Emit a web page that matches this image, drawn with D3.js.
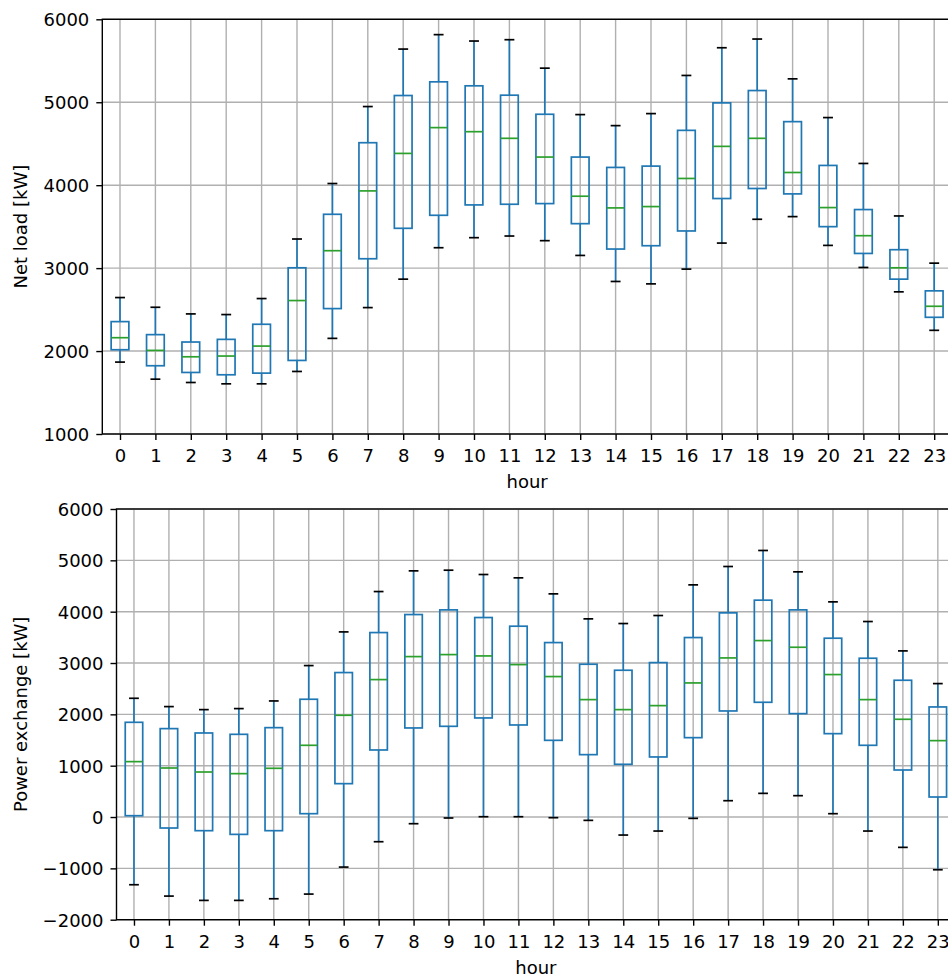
<!DOCTYPE html>
<html>
<head>
<meta charset="utf-8">
<script src="https://cdn.jsdelivr.net/npm/d3@7"></script>
<style>
  body { margin: 0; background: #fff; }
  svg text { font-family: "DejaVu Sans", sans-serif; font-size: 18px; fill: #000; }
</style>
</head>
<body>
<svg id="chart" width="948" height="977"></svg>
<script>
var hours = d3.range(0, 24);

// net load [kW]: whisker low, Q1, median, Q3, whisker high
var loadLow  = [1867,1661,1621,1605,1605,1754,2153,2524,2867,3246,3367,3387,3331,3153,2839,2810,2988,3302,3589,3621,3274,3008,2714,2250];
var loadQ1   = [2016,1823,1742,1714,1734,1887,2512,3113,3480,3637,3762,3770,3778,3536,3230,3270,3448,3839,3960,3895,3500,3177,2867,2407];
var loadMed  = [2161,2008,1931,1940,2060,2609,3210,3931,4383,4694,4645,4565,4339,3867,3726,3742,4081,4468,4565,4153,3730,3391,3004,2540];
var loadQ3   = [2355,2198,2109,2141,2323,3004,3649,4512,5081,5246,5198,5085,4855,4339,4214,4230,4661,4992,5141,4766,4238,3706,3222,2726];
var loadHigh = [2645,2528,2448,2440,2633,3351,4020,4948,5641,5815,5738,5754,5411,4851,4718,4863,5323,5657,5762,5282,4815,4262,3629,3060];

// power exchange [kW]
var pxLow  = [-1319,-1540,-1624,-1624,-1592,-1501,-975,-481,-130,-19,6,6,-13,-65,-351,-273,-26,318,461,416,65,-273,-591,-1027];
var pxQ1   = [26,-214,-266,-338,-266,65,650,1306,1735,1767,1930,1793,1494,1215,1027,1170,1546,2066,2235,2014,1624,1397,916,390];
var pxMed  = [1079,955,877,845,949,1397,1982,2677,3125,3164,3138,2969,2736,2287,2092,2170,2612,3099,3437,3307,2775,2287,1904,1488];
var pxQ3   = [1845,1722,1637,1611,1741,2294,2814,3593,3944,4035,3886,3717,3398,2976,2859,3008,3496,3977,4224,4035,3483,3093,2664,2144];
var pxHigh = [2313,2151,2092,2112,2261,2950,3606,4392,4795,4808,4724,4659,4347,3860,3769,3925,4522,4880,5192,4776,4191,3808,3236,2599];

var loadTicks = [1000,2000,3000,4000,5000,6000];
var pxTicks = [-2000,-1000,0,1000,2000,3000,4000,5000,6000];

function rows(low, q1, med, q3, high) {
  return hours.map(function(h, i) {
    return {hour: h, low: low[i], q1: q1[i], med: med[i], q3: q3[i], high: high[i]};
  });
}

var svg = d3.select("#chart");

function drawBoxPlot(opt) {
  var x = d3.scaleLinear().domain([-0.5, 23.5]).range([opt.left, opt.left + opt.width]);
  var y = d3.scaleLinear().domain(opt.yDomain).range([opt.top + opt.height, opt.top]);
  var step = x(1) - x(0);
  var boxW = step * 0.5, capW = step * 0.28;
  var g = svg.append("g");

  // grid
  g.selectAll(".gx").data(hours).enter().append("line")
    .attr("x1", function(d) { return x(d); }).attr("x2", function(d) { return x(d); })
    .attr("y1", opt.top).attr("y2", opt.top + opt.height)
    .attr("stroke", "#b0b0b0").attr("stroke-width", 1.4);
  g.selectAll(".gy").data(opt.ticks).enter().append("line")
    .attr("x1", opt.left).attr("x2", opt.left + opt.width)
    .attr("y1", function(d) { return y(d); }).attr("y2", function(d) { return y(d); })
    .attr("stroke", "#b0b0b0").attr("stroke-width", 1.4);

  var b = g.selectAll(".box").data(opt.data).enter().append("g");
  b.append("line").attr("stroke", "#1f77b4").attr("stroke-width", 1.7)
    .attr("x1", function(d) { return x(d.hour); }).attr("x2", function(d) { return x(d.hour); })
    .attr("y1", function(d) { return y(d.low); }).attr("y2", function(d) { return y(d.q1); });
  b.append("line").attr("stroke", "#1f77b4").attr("stroke-width", 1.7)
    .attr("x1", function(d) { return x(d.hour); }).attr("x2", function(d) { return x(d.hour); })
    .attr("y1", function(d) { return y(d.q3); }).attr("y2", function(d) { return y(d.high); });
  b.append("rect").attr("fill", "none").attr("stroke", "#1f77b4").attr("stroke-width", 1.7)
    .attr("x", function(d) { return x(d.hour) - boxW / 2; }).attr("width", boxW)
    .attr("y", function(d) { return y(d.q3); })
    .attr("height", function(d) { return y(d.q1) - y(d.q3); });
  b.append("line").attr("stroke", "#2ca02c").attr("stroke-width", 1.7)
    .attr("x1", function(d) { return x(d.hour) - boxW / 2; }).attr("x2", function(d) { return x(d.hour) + boxW / 2; })
    .attr("y1", function(d) { return y(d.med); }).attr("y2", function(d) { return y(d.med); });
  ["low", "high"].forEach(function(k) {
    b.append("line").attr("stroke", "#000").attr("stroke-width", 1.7)
      .attr("x1", function(d) { return x(d.hour) - capW / 2; }).attr("x2", function(d) { return x(d.hour) + capW / 2; })
      .attr("y1", function(d) { return y(d[k]); }).attr("y2", function(d) { return y(d[k]); });
  });

  // frame
  g.append("rect").attr("x", opt.left).attr("y", opt.top)
    .attr("width", opt.width).attr("height", opt.height)
    .attr("fill", "none").attr("stroke", "#000").attr("stroke-width", 1.4);

  var xa = g.append("g").attr("transform", "translate(0," + (opt.top + opt.height) + ")")
    .call(d3.axisBottom(x).tickValues(hours).tickSize(6).tickPadding(7).tickFormat(d3.format("d")));
  var ya = g.append("g").attr("transform", "translate(" + opt.left + ",0)")
    .call(d3.axisLeft(y).tickValues(opt.ticks).tickSize(6).tickPadding(7)
      .tickFormat(function(d) { return d < 0 ? "\u2212" + Math.abs(d) : d; }));
  [xa, ya].forEach(function(a) {
    a.attr("font-family", null).attr("font-size", null);
    a.select(".domain").remove();
    a.selectAll(".tick line").attr("stroke", "#000").attr("stroke-width", 1.4);
    a.selectAll(".tick text").attr("fill", "#000");
  });
  xa.selectAll(".tick text").attr("dy", null).attr("y", 28);
  ya.selectAll(".tick text").attr("dy", "0.36em");

  g.append("text").attr("x", opt.left + opt.width / 2).attr("y", opt.top + opt.height + 54)
    .attr("text-anchor", "middle").text("hour");
  g.append("text")
    .attr("transform", "translate(27," + (opt.top + opt.height / 2) + ") rotate(-90)")
    .attr("text-anchor", "middle").text(opt.yLabel);
}

drawBoxPlot({
  left: 102.3, top: 19.3, width: 849.6, height: 414.7,
  yDomain: [1000, 6000], ticks: loadTicks, yLabel: "Net load [kW]",
  data: rows(loadLow, loadQ1, loadMed, loadQ3, loadHigh)
});
drawBoxPlot({
  left: 116.5, top: 509, width: 838.8, height: 410.7,
  yDomain: [-2000, 6000], ticks: pxTicks, yLabel: "Power exchange [kW]",
  data: rows(pxLow, pxQ1, pxMed, pxQ3, pxHigh)
});
</script>
</body>
</html>
